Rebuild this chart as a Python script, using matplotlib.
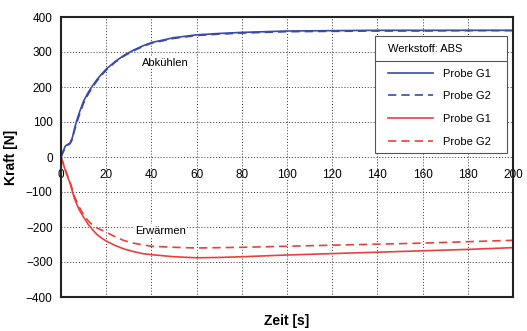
import matplotlib
matplotlib.use("Agg")
import matplotlib.pyplot as plt
from matplotlib.patches import Rectangle
from matplotlib.lines import Line2D

plt.rcParams['font.family'] = ['Liberation Sans', 'DejaVu Sans']

# Data
t_blue = [0, 1, 2, 3, 4, 5, 6, 7, 8, 10, 12, 14, 16, 18, 20, 24, 28, 32, 36, 40, 50, 60, 70, 80, 100, 120, 140, 160, 180, 200]
blue_g1 = [0, 18, 32, 36, 40, 55, 82, 105, 125, 160, 184, 204, 222, 237, 251, 273, 291, 305, 317, 327, 341, 349, 353, 356, 360, 361, 362, 362, 362, 362]
blue_g2 = [0, 15, 28, 34, 38, 50, 76, 98, 118, 154, 179, 200, 218, 234, 248, 271, 289, 303, 315, 325, 339, 347, 351, 354, 358, 359, 360, 360, 361, 361]

t_red = [0, 1, 2, 3, 4, 5, 6, 8, 10, 12, 14, 16, 18, 20, 24, 28, 32, 36, 40, 50, 60, 70, 80, 100, 120, 140, 160, 180, 200]
red_g1 = [0, -20, -40, -58, -75, -98, -120, -150, -172, -192, -208, -222, -232, -240, -253, -263, -270, -276, -279, -285, -288, -287, -285, -280, -276, -272, -268, -264, -259]
red_g2 = [0, -18, -37, -55, -72, -92, -113, -142, -165, -182, -195, -203, -209, -215, -228, -239, -246, -251, -255, -258, -260, -259, -258, -255, -252, -249, -246, -242, -238]

x_ticks = list(range(0, 201, 20))
y_ticks = list(range(-400, 401, 100))

blue = '#3a4aaa'
red = '#ea3f3a'

fig = plt.figure(figsize=(5.27, 3.31), dpi=100)
ax = fig.add_axes([61/527, 1-297/331, (513-61)/527, (297-17)/331])

ax.plot(t_blue, blue_g1, color=blue, lw=1.2, label='Probe G1')
ax.plot(t_blue, blue_g2, color=blue, lw=1.2, ls=(0, (5, 3)), label='Probe G2')
ax.plot(t_red, red_g1, color=red, lw=1.2, label='Probe G1')
ax.plot(t_red, red_g2, color=red, lw=1.2, ls=(0, (5, 3)), label='Probe G2')

ax.set_xlim(0, 200)
ax.set_ylim(-400, 400)
ax.set_xticks(x_ticks)
ax.set_yticks(y_ticks)
ax.grid(True, color='#333333', ls=(0, (1, 2)), lw=0.7)
ax.tick_params(axis='x', which='both', bottom=False, labelbottom=False)
ax.tick_params(axis='y', length=0, labelsize=8.5, pad=6)
for s in ax.spines.values():
    s.set_linewidth(1.5)
    s.set_color('#222222')

sec = ax.secondary_xaxis(0.5)
sec.xaxis.set_ticks_position('bottom')
sec.set_xticks(x_ticks)
sec.tick_params(axis='x', length=0, labelsize=8.5, pad=9, top=False, labeltop=False,
                bottom=True, labelbottom=True)
for s in sec.spines.values():
    s.set_visible(False)

ax.set_xlabel('Zeit [s]', fontsize=10, fontweight='bold', labelpad=12)
ax.set_ylabel('Kraft [N]', fontsize=10, fontweight='bold', labelpad=6)

ax.text(46, 270, 'Abkühlen', fontsize=8, ha='center', va='center',
        bbox=dict(facecolor='white', edgecolor='none', pad=1))
ax.text(44, -210, 'Erwärmen', fontsize=8, ha='center', va='center',
        bbox=dict(facecolor='white', edgecolor='none', pad=1))

leg = ax.legend(title='Werkstoff: ABS', loc='upper right',
                bbox_to_anchor=((491 - 61) / 452, (297 - 44) / 280),
                borderaxespad=0, frameon=False, borderpad=0,
                fontsize=8, title_fontsize=8, handlelength=4.1, labelspacing=1.15,
                handletextpad=0.9)
leg._legend_box.align = 'left'
leg._legend_box.sep = 10.5
leg.set_zorder(6)

fig.canvas.draw()
bb = leg.get_window_extent()
tb = leg.get_title().get_window_extent()
# frame around legend contents
left = bb.x0 - 13
right = bb.x1 + 16
top = bb.y1 + 8
bottom = bb.y0 - 6
frame = Rectangle((left, bottom), right - left, top - bottom, transform=None,
                  facecolor='white', edgecolor='#555555', lw=0.8, zorder=5,
                  clip_on=False)
ax.add_artist(frame)
ysep = tb.y0 - 7
sep = Line2D([left, right], [ysep, ysep], transform=None,
             color='#555555', lw=0.8, zorder=7, clip_on=False)
ax.add_artist(sep)

fig.savefig('out.png', dpi=100)
